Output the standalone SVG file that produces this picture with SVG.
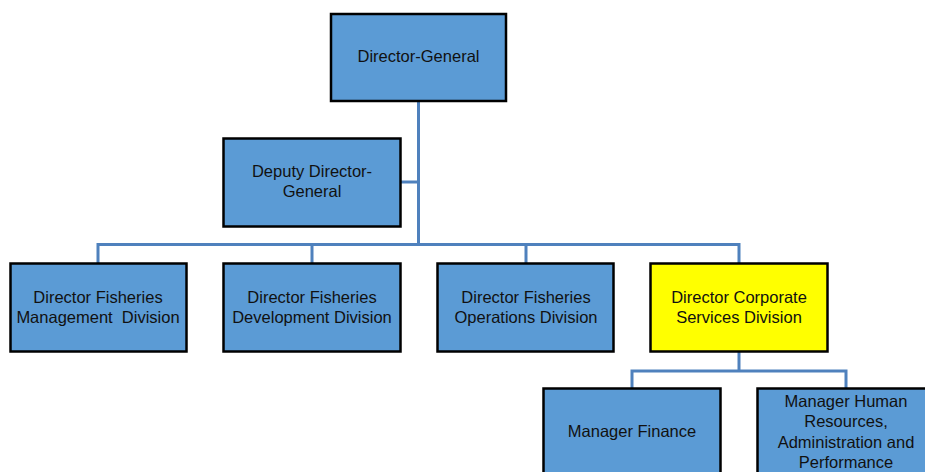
<svg xmlns="http://www.w3.org/2000/svg" width="925" height="472" viewBox="0 0 925 472">
<style>
.box{fill:#5B9BD5;stroke:#000;stroke-width:2.5}
.yel{fill:#FFFF00;stroke:#000;stroke-width:2.5}
.t{font-family:"Liberation Sans",Arial,sans-serif;font-size:16.5px;fill:#111;text-anchor:middle}
.c{fill:none;stroke:#4F81BD;stroke-width:3}
</style>
<rect width="925" height="472" fill="#fff"/>
<g id="connectors">
<path class="c" d="M418.5,101 V244.5"/>
<path class="c" d="M401,182 H418.5"/>
<path class="c" d="M98,263 V244.5 H739 V263"/>
<path class="c" d="M312,244.5 V263"/>
<path class="c" d="M526,244.5 V263"/>
<path class="c" d="M739,351 V371"/>
<path class="c" d="M632,388 V371 H846 V388"/>
</g>
<g id="director-general">
<rect class="box" x="331" y="14" width="175" height="87"/>
<text class="t" x="418.5" y="62">Director-General</text>
</g>
<g id="deputy-director-general">
<rect class="box" x="223.5" y="138.5" width="177" height="88"/>
<text class="t" x="312" y="177">Deputy Director-</text>
<text class="t" x="312" y="197">General</text>
</g>
<g id="fisheries-management">
<rect class="box" x="10.5" y="263.5" width="176" height="88"/>
<text class="t" x="98" y="303">Director Fisheries</text>
<text class="t" x="98" y="323" xml:space="preserve">Management  Division</text>
</g>
<g id="fisheries-development">
<rect class="box" x="223.5" y="263.5" width="177" height="88"/>
<text class="t" x="312" y="303">Director Fisheries</text>
<text class="t" x="312" y="323">Development Division</text>
</g>
<g id="fisheries-operations">
<rect class="box" x="437.5" y="263.5" width="176" height="88"/>
<text class="t" x="526" y="303">Director Fisheries</text>
<text class="t" x="526" y="323">Operations Division</text>
</g>
<g id="corporate-services">
<rect class="yel" x="650.5" y="263.5" width="177" height="88"/>
<text class="t" x="739" y="303">Director Corporate</text>
<text class="t" x="739" y="323">Services Division</text>
</g>
<g id="manager-finance">
<rect class="box" x="543.5" y="388.5" width="177" height="95"/>
<text class="t" x="632" y="437">Manager Finance</text>
</g>
<g id="manager-hr">
<rect class="box" x="757.5" y="388.5" width="178" height="95"/>
<text class="t" x="846" y="407">Manager Human</text>
<text class="t" x="846" y="427">Resources,</text>
<text class="t" x="846" y="448">Administration and</text>
<text class="t" x="846" y="468">Performance</text>
</g>
</svg>
